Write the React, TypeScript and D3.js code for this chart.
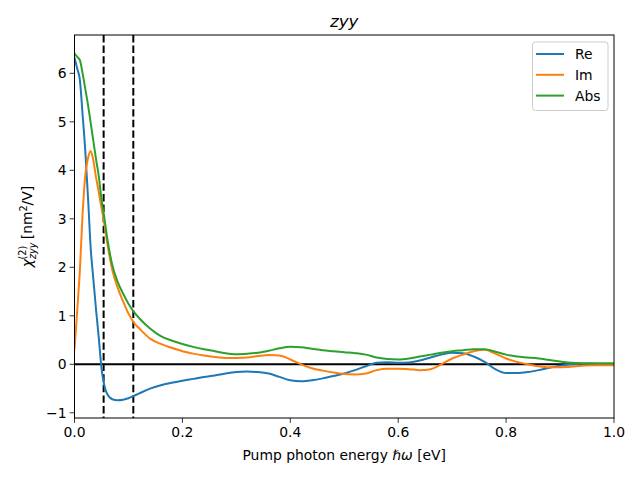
import React from "react";
import * as d3 from "d3";

const xs = [0, 0.005, 0.01, 0.015, 0.02, 0.025, 0.03, 0.035, 0.04, 0.045, 0.05, 0.055, 0.06, 0.07, 0.08, 0.09, 0.1, 0.11, 0.12, 0.14, 0.16, 0.18, 0.2, 0.22, 0.24, 0.26, 0.28, 0.3, 0.32, 0.34, 0.36, 0.38, 0.4, 0.42, 0.44, 0.46, 0.48, 0.5, 0.52, 0.54, 0.56, 0.58, 0.6, 0.62, 0.64, 0.66, 0.68, 0.7, 0.72, 0.74, 0.76, 0.78, 0.8, 0.82, 0.84, 0.86, 0.88, 0.9, 0.92, 0.94, 0.96, 0.98, 1.0];

const reVals = [6.32, 6.1, 5.86, 5.15, 4.4, 3.45, 2.4, 1.75, 1.12, 0.55, -0.08, -0.42, -0.6, -0.72, -0.74, -0.73, -0.7, -0.65, -0.6, -0.5, -0.43, -0.38, -0.34, -0.3, -0.26, -0.23, -0.19, -0.16, -0.15, -0.16, -0.19, -0.26, -0.33, -0.35, -0.33, -0.29, -0.24, -0.19, -0.12, -0.04, 0.03, 0.04, 0.03, 0.04, 0.08, 0.14, 0.2, 0.24, 0.23, 0.16, 0.05, -0.1, -0.18, -0.18, -0.16, -0.12, -0.07, -0.03, 0.0, 0.01, 0.01, 0.0, 0.0];

const imVals = [0.3, 1.1, 1.95, 3.1, 3.9, 4.25, 4.4, 4.2, 3.85, 3.55, 3.23, 2.92, 2.55, 1.95, 1.58, 1.3, 1.05, 0.86, 0.74, 0.53, 0.42, 0.34, 0.27, 0.22, 0.18, 0.15, 0.13, 0.13, 0.14, 0.17, 0.19, 0.18, 0.1, 0.0, -0.08, -0.13, -0.17, -0.2, -0.21, -0.19, -0.12, -0.09, -0.09, -0.1, -0.12, -0.1, 0.0, 0.12, 0.2, 0.27, 0.3, 0.22, 0.12, 0.05, 0.0, -0.04, -0.06, -0.06, -0.05, -0.03, -0.02, -0.02, -0.02];

const absVals = [6.41, 6.34, 6.27, 6.0, 5.68, 5.35, 4.98, 4.6, 4.22, 3.88, 3.4, 3.05, 2.65, 2.05, 1.7, 1.46, 1.25, 1.08, 0.95, 0.74, 0.58, 0.49, 0.42, 0.36, 0.31, 0.27, 0.23, 0.21, 0.22, 0.24, 0.28, 0.33, 0.36, 0.35, 0.32, 0.29, 0.27, 0.25, 0.23, 0.2, 0.14, 0.11, 0.1, 0.12, 0.16, 0.2, 0.24, 0.27, 0.29, 0.31, 0.31, 0.26, 0.2, 0.16, 0.14, 0.12, 0.09, 0.06, 0.03, 0.02, 0.02, 0.02, 0.02];

const seriesNames = ["Re", "Im", "Abs"];
const seriesColors = ["#1f77b4", "#ff7f0e", "#2ca02c"];
const xTicks = [0, 0.2, 0.4, 0.6, 0.8, 1.0];
const yTicks = [-1, 0, 1, 2, 3, 4, 5, 6];
const dashedX = [0.054, 0.109];

export default function App() {
  const W = 640, H = 480;
  const L = 74.5, R = 614, T = 35, B = 418;
  const x = d3.scaleLinear().domain([0, 1]).range([L, R]);
  const y = d3.scaleLinear().domain([-1.107, 6.79]).range([B, T]);
  const series = [reVals, imVals, absVals];
  const line = d3.line<number>().x((_, i) => x(xs[i])).y((d) => y(d)).curve(d3.curveMonotoneX);
  const font = "DejaVu Sans, sans-serif";
  return (
    <svg width={W} height={H} style={{ position: "absolute", left: 0, top: 0 }} fontFamily={font}>
      <rect width={W} height={H} fill="white" />
      <defs>
        <clipPath id="clip">
          <rect x={L} y={T} width={R - L} height={B - T} />
        </clipPath>
      </defs>
      <g clipPath="url(#clip)">
        <line x1={L} x2={R} y1={y(0)} y2={y(0)} stroke="black" strokeWidth={2} />
        {dashedX.map((d, i) => (
          <line key={i} x1={x(d)} x2={x(d)} y1={T} y2={B} stroke="black" strokeWidth={2} strokeDasharray="7.4,3.2" />
        ))}
        {series.map((s, i) => (
          <path key={i} d={line(s) || ""} fill="none" stroke={seriesColors[i]} strokeWidth={2} />
        ))}
      </g>
      <rect x={L} y={T} width={R - L} height={B - T} fill="none" stroke="black" strokeWidth={1} />
      {xTicks.map((t) => (
        <g key={t}>
          <line x1={x(t)} x2={x(t)} y1={B} y2={B + 4.9} stroke="black" strokeWidth={0.8} />
          <text x={x(t)} y={B + 18.5} textAnchor="middle" fontSize={13.9}>{t.toFixed(1)}</text>
        </g>
      ))}
      {yTicks.map((t) => (
        <g key={t}>
          <line x1={L} x2={L - 4.9} y1={y(t)} y2={y(t)} stroke="black" strokeWidth={0.8} />
          <text x={L - 8} y={y(t) + 5} textAnchor="end" fontSize={13.9}>{t < 0 ? "\u2212" + Math.abs(t) : t}</text>
        </g>
      ))}
      <text x={(L + R) / 2} y={27} textAnchor="middle" fontSize={16.7} fontStyle="italic">zyy</text>
      <text x={(L + R) / 2} y={460} textAnchor="middle" fontSize={13.9}>
        Pump photon energy <tspan fontStyle="italic">ℏω</tspan> [eV]
      </text>
      <text transform={`translate(32,${(T + B) / 2}) rotate(-90)`} textAnchor="middle" fontSize={13.9}>
        <tspan fontStyle="italic">χ</tspan>
        <tspan fontSize={9.7} dy={4} fontStyle="italic">zyy</tspan>
        <tspan fontSize={9.7} dx={-17} dy={-10}>(2)</tspan>
        <tspan dy={6} dx={2}> [nm</tspan>
        <tspan fontSize={9.7} dy={-5}>2</tspan>
        <tspan dy={5}>/V]</tspan>
      </text>
      <rect x={532.5} y={42} width={75.5} height={68.5} rx={3} fill="white" fillOpacity={0.8} stroke="#cccccc" strokeWidth={1} />
      {seriesNames.map((n, i) => (
        <g key={n}>
          <line x1={536} x2={564} y1={54 + i * 20.8} y2={54 + i * 20.8} stroke={seriesColors[i]} strokeWidth={2} />
          <text x={575} y={54 + i * 20.8 + 5} fontSize={13.9}>{n}</text>
        </g>
      ))}
    </svg>
  );
}
